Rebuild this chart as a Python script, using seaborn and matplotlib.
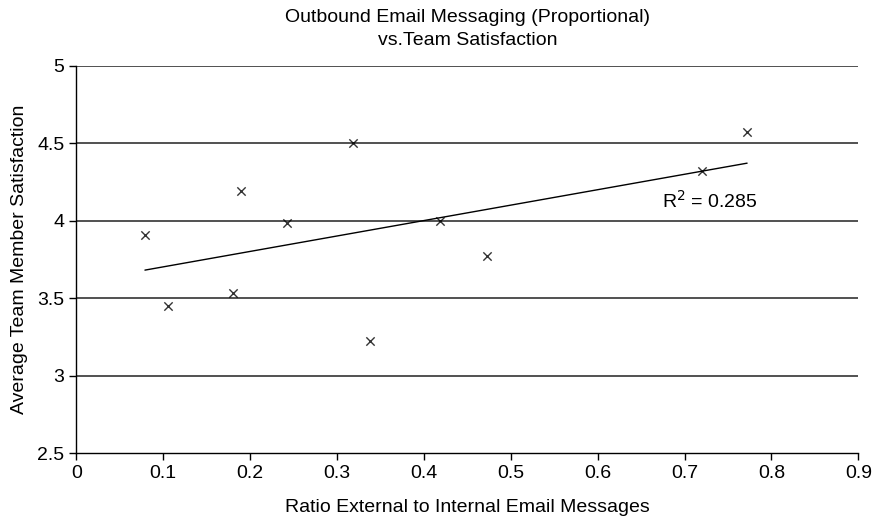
import matplotlib
matplotlib.use("Agg")
import matplotlib.pyplot as plt
import seaborn as sns
import pandas as pd
import numpy as np

# ratio external/internal emails vs average satisfaction
ratio = [0.079, 0.105, 0.180, 0.190, 0.243, 0.318, 0.338, 0.419, 0.473, 0.720, 0.772]
satisfaction = [3.905, 3.45, 3.536, 4.19, 3.985, 4.502, 3.226, 3.998, 3.77, 4.318, 4.57]
r2_label = "R$^2$ = 0.285"

df = pd.DataFrame({"ratio": ratio, "satisfaction": satisfaction})

sns.set_style("white")
plt.rcParams['font.family'] = ['Liberation Sans', 'DejaVu Sans']
plt.rcParams['text.color'] = 'black'
plt.rcParams['axes.labelcolor'] = 'black'
plt.rcParams['xtick.color'] = 'black'
plt.rcParams['ytick.color'] = 'black'

fig = plt.figure(figsize=(8.77, 5.17), dpi=100)
ax = fig.add_axes([0.087, 0.1232, 0.8917, 0.7498])

sns.regplot(data=df, x="ratio", y="satisfaction", ax=ax, ci=None, marker="x",
            scatter_kws={"color": "black", "s": 36, "linewidths": 1.0},
            line_kws={"color": "black", "linewidth": 1.0})

ax.set_xlim(0, 0.9)
ax.set_ylim(2.5, 5)
ax.set_xticks(np.arange(0, 0.91, 0.1))
ax.set_xticklabels(["0", "0.1", "0.2", "0.3", "0.4", "0.5", "0.6", "0.7", "0.8", "0.9"])
ax.set_yticks([2.5, 3, 3.5, 4, 4.5, 5])
ax.set_yticklabels(["2.5", "3", "3.5", "4", "4.5", "5"])

for yv in [3, 3.5, 4, 4.5, 5]:
    ax.axhline(yv, color="#333333", linewidth=1.2, zorder=0)

for s in ["top", "right"]:
    ax.spines[s].set_visible(False)
for s in ["left", "bottom"]:
    ax.spines[s].set_color("black")
    ax.spines[s].set_linewidth(1.0)

ax.tick_params(axis="both", direction="out", length=5, width=1, color="black",
               labelsize=14, bottom=True, left=True)

ax.text(0.674, 4.084, r2_label, fontsize=14, va="baseline", ha="left")

ax.set_xlabel("Ratio External to Internal Email Messages", fontsize=14, labelpad=12)
ax.set_ylabel("Average Team Member Satisfaction", fontsize=14, labelpad=7)
ax.set_title("Outbound Email Messaging (Proportional)\nvs.Team Satisfaction",
             fontsize=14, pad=15, linespacing=1.45)

fig.savefig("out.png", dpi=100)
